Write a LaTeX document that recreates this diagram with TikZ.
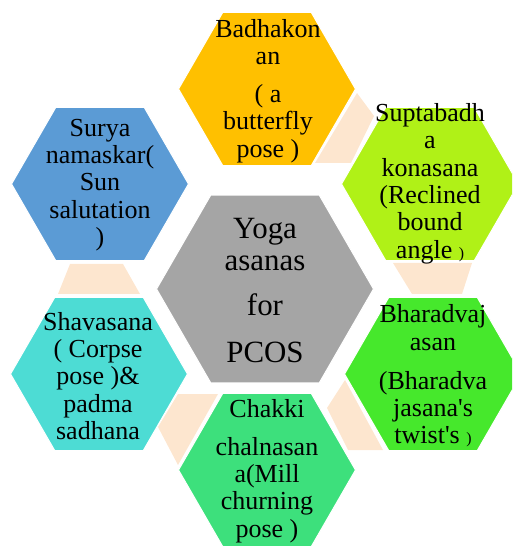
\documentclass[tikz,border=0pt]{standalone}
\usepackage{fontspec}
\setmainfont{Liberation Serif}
\usepackage{tikz}
\usepackage{xcolor}
\usetikzlibrary{shapes.geometric}

\definecolor{hexgold}{HTML}{FFC000}
\definecolor{hexlime}{HTML}{B0F117}
\definecolor{hexgreen}{HTML}{46E82C}
\definecolor{hexmint}{HTML}{3DE07C}
\definecolor{hexteal}{HTML}{4DDCD4}
\definecolor{hexblue}{HTML}{5B9BD5}
\definecolor{hexgray}{HTML}{A5A5A5}
\definecolor{peach}{HTML}{FDE6CF}

\newcommand{\outerfont}{\fontsize{14.8}{15.6}\selectfont}
\newcommand{\corefont}{\fontsize{17.6}{18.1}\selectfont}
\newcommand{\tinyparen}{{\fontsize{9}{9}\selectfont )}}

\tikzset{
    hexcell/.style={regular polygon, regular polygon sides=6, inner sep=0pt,
        minimum size=3.54cm, draw=white, line width=0.6pt},
    hexlabel/.style={align=center, font=\outerfont, inner sep=0pt},
    peachlink/.style={fill=peach}
}

\begin{document}
\begin{tikzpicture}[x=0.02cm, y=-0.02cm]
        \path[use as bounding box] (0,0) rectangle (512,546);
        \clip (0,0) rectangle (512,546);
        \fill[peachlink] (357,93) -- (374,116) -- (351,163) -- (315,163) -- cycle;
        \fill[peachlink] (393,263) -- (472,263) -- (462,294) -- (412,294) -- cycle;
        \fill[peachlink] (345,380) -- (383,450) -- (348,450) -- (327,408) -- cycle;
        \fill[peachlink] (178,394) -- (218,394) -- (178,465) -- (158,427) -- cycle;
        \fill[peachlink] (70,264) -- (123,264) -- (140,294) -- (58,294) -- cycle;
        \node[hexcell, minimum size=4.34cm, fill=hexgray] (core) at (265,289) {};
        \node[hexcell, fill=hexgold] (badha) at (267,89) {};
        \node[hexcell, fill=hexlime] (supta) at (430,184) {};
        \node[hexcell, fill=hexgreen] (bhara) at (433,374) {};
        \node[hexcell, fill=hexmint] (chakki) at (267,470) {};
        \node[hexcell, fill=hexteal] (shava) at (99,374) {};
        \node[hexcell, fill=hexblue] (surya) at (100,184) {};
        \node[hexlabel, font=\corefont] (coretext) at (265,290.5) {Yoga\\asanas\\[8pt]for\\[8.5pt]PCOS};
        \node[hexlabel] (badhatext) at (268,91) {Badhakon\\an\\[6pt]( a\\butterfly\\pose )};
        \node[hexlabel] (suptatext) at (430,183.5) {Suptabadh\\a\\konasana\\(Reclined\\bound\\angle \tinyparen};
        \node[hexlabel] (bharatext) at (433,376) {Bharadvaj\\asan\\[6.5pt](Bharadva\\jasana\textquotesingle s\\twist\textquotesingle s \tinyparen};
        \node[hexlabel] (chakkitext) at (267,471) {Chakki\\[6pt]chalnasan\\a(Mill\\churning\\pose )};
        \node[hexlabel] (shavatext) at (98,376) {Shavasana\\( Corpse\\pose )\&\\padma\\sadhana};
        \node[hexlabel] (suryatext) at (100,185) {Surya\\namaskar(\\Sun\\salutation\\)};
\end{tikzpicture}
\end{document}
